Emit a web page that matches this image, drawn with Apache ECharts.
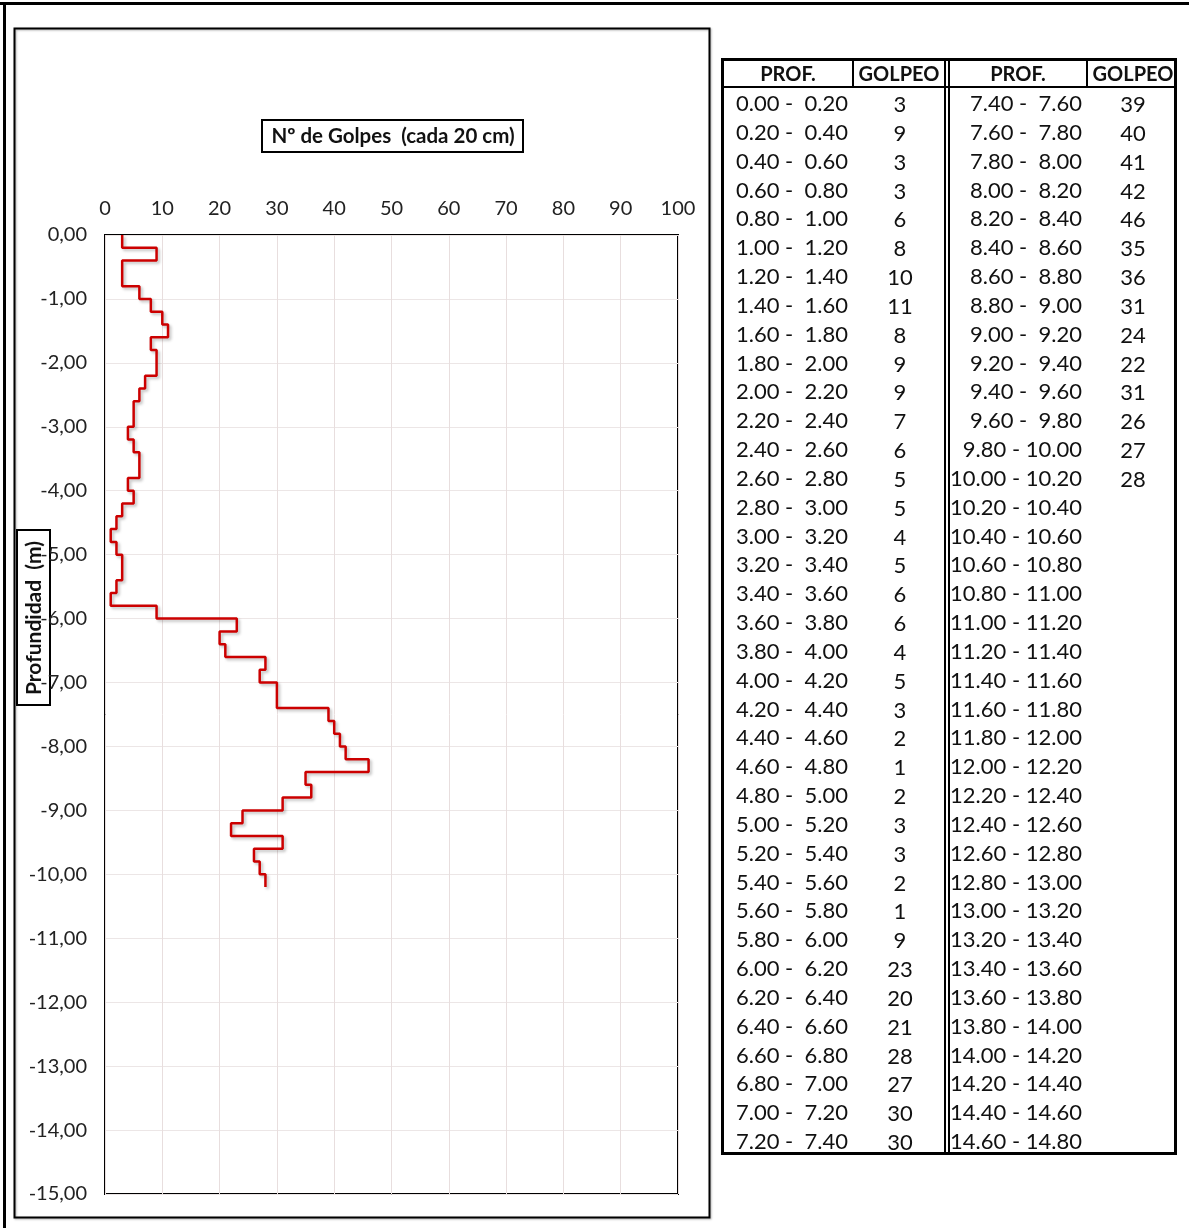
<!DOCTYPE html>
<html>
<head>
<meta charset="utf-8">
<script src="https://cdn.jsdelivr.net/npm/echarts@6/dist/echarts.min.js"></script>
<style>
  html,body{margin:0;padding:0;background:#fff;}
  #chart{position:absolute;left:0;top:0;width:1189px;height:1228px;}
  .t{position:absolute;font-family:Lato,"Open Sans",sans-serif;color:#111;white-space:pre;line-height:1;}
  .ln{position:absolute;background:#000;}
</style>
</head>
<body>
<div id="chart"></div>
<div id="tbl"></div>
<script>
// ---- Data ----
const profLeft = ["0.00 -  0.20","0.20 -  0.40","0.40 -  0.60","0.60 -  0.80","0.80 -  1.00","1.00 -  1.20","1.20 -  1.40","1.40 -  1.60","1.60 -  1.80","1.80 -  2.00","2.00 -  2.20","2.20 -  2.40","2.40 -  2.60","2.60 -  2.80","2.80 -  3.00","3.00 -  3.20","3.20 -  3.40","3.40 -  3.60","3.60 -  3.80","3.80 -  4.00","4.00 -  4.20","4.20 -  4.40","4.40 -  4.60","4.60 -  4.80","4.80 -  5.00","5.00 -  5.20","5.20 -  5.40","5.40 -  5.60","5.60 -  5.80","5.80 -  6.00","6.00 -  6.20","6.20 -  6.40","6.40 -  6.60","6.60 -  6.80","6.80 -  7.00","7.00 -  7.20","7.20 -  7.40"];
const profRight = ["7.40 -  7.60","7.60 -  7.80","7.80 -  8.00","8.00 -  8.20","8.20 -  8.40","8.40 -  8.60","8.60 -  8.80","8.80 -  9.00","9.00 -  9.20","9.20 -  9.40","9.40 -  9.60","9.60 -  9.80","9.80 - 10.00","10.00 - 10.20","10.20 - 10.40","10.40 - 10.60","10.60 - 10.80","10.80 - 11.00","11.00 - 11.20","11.20 - 11.40","11.40 - 11.60","11.60 - 11.80","11.80 - 12.00","12.00 - 12.20","12.20 - 12.40","12.40 - 12.60","12.60 - 12.80","12.80 - 13.00","13.00 - 13.20","13.20 - 13.40","13.40 - 13.60","13.60 - 13.80","13.80 - 14.00","14.00 - 14.20","14.20 - 14.40","14.40 - 14.60","14.60 - 14.80"];
// depth tops and bottoms (m) of each 20 cm interval with a blow count
const depthTop    = [0.0,0.2,0.4,0.6,0.8,1.0,1.2,1.4,1.6,1.8,2.0,2.2,2.4,2.6,2.8,3.0,3.2,3.4,3.6,3.8,4.0,4.2,4.4,4.6,4.8,5.0,5.2,5.4,5.6,5.8,6.0,6.2,6.4,6.6,6.8,7.0,7.2,7.4,7.6,7.8,8.0,8.2,8.4,8.6,8.8,9.0,9.2,9.4,9.6,9.8,10.0];
const depthBottom = [0.2,0.4,0.6,0.8,1.0,1.2,1.4,1.6,1.8,2.0,2.2,2.4,2.6,2.8,3.0,3.2,3.4,3.6,3.8,4.0,4.2,4.4,4.6,4.8,5.0,5.2,5.4,5.6,5.8,6.0,6.2,6.4,6.6,6.8,7.0,7.2,7.4,7.6,7.8,8.0,8.2,8.4,8.6,8.8,9.0,9.2,9.4,9.6,9.8,10.0,10.2];
const golpes = [3,9,3,3,6,8,10,11,8,9,9,7,6,5,5,4,5,6,6,4,5,3,2,1,2,3,3,2,1,9,23,20,21,28,27,30,30,39,40,41,42,46,35,36,31,24,22,31,26,27,28];
const xTicks = [0,10,20,30,40,50,60,70,80,90,100];
const yTicks = [0,-1,-2,-3,-4,-5,-6,-7,-8,-9,-10,-11,-12,-13,-14,-15];

// ---- Step line points ----
const pts = [];
golpes.forEach((g,i)=>{ pts.push([g,-depthTop[i]]); pts.push([g,-depthBottom[i]]); });

const chart = echarts.init(document.getElementById('chart'), null, {renderer:'canvas'});
const FONT = 'Lato, "Open Sans", sans-serif';
chart.setOption({
  backgroundColor:'#fff',
  animation:false,
  grid:{left:105, top:235, width:573, height:959, show:true, borderColor:'#000', borderWidth:2, backgroundColor:'transparent'},
  xAxis:{type:'value', position:'top', min:xTicks[0], max:xTicks[xTicks.length-1], interval:10,
    axisLine:{show:false}, axisTick:{show:false},
    axisLabel:{fontFamily:FONT, fontSize:20, color:'#222', margin:16},
    splitLine:{show:true, lineStyle:{color:'#e8dede', width:1}}},
  yAxis:{type:'value', min:yTicks[yTicks.length-1], max:yTicks[0], interval:1,
    axisLine:{show:false}, axisTick:{show:false},
    axisLabel:{fontFamily:FONT, fontSize:20, color:'#222', margin:18,
      formatter:v=>v.toFixed(2).replace('.',',').replace('-0,00','0,00')},
    splitLine:{show:true, lineStyle:{color:'#ece6e6', width:1}}},
  series:[{type:'line', data:pts, symbol:'none', clip:false,
    lineStyle:{color:'#cc0000', width:2.5, shadowColor:'rgba(0,0,0,0.25)', shadowBlur:3, shadowOffsetX:2, shadowOffsetY:2}}],
  graphic:[
    {type:'line', shape:{x1:0,y1:3.5,x2:1189,y2:3.5}, style:{stroke:'#000', lineWidth:3}},
    {type:'line', shape:{x1:4.5,y1:2,x2:4.5,y2:1228}, style:{stroke:'#000', lineWidth:3}},
    {type:'rect', shape:{x:14.5,y:28.5,width:695,height:1189}, style:{fill:'none', stroke:'#000', lineWidth:2, shadowColor:'rgba(0,0,0,0.3)', shadowBlur:2, shadowOffsetX:1, shadowOffsetY:1}},
    {type:'rect', shape:{x:262,y:120,width:261,height:32}, style:{fill:'#fff', stroke:'#000', lineWidth:2}},
    {type:'text', x:393, y:136, style:{text:'Nº de Golpes  (cada 20 cm)', font:'bold 20.5px '+FONT, fill:'#111', align:'center', verticalAlign:'middle'}},
    {type:'rect', shape:{x:17,y:530,width:33,height:175}, style:{fill:'none', stroke:'#000', lineWidth:2}},
    {type:'text', x:34, y:618, rotation:Math.PI/2, style:{text:'Profundidad  (m)', font:'bold 21px '+FONT, fill:'#111', align:'center', verticalAlign:'middle'}}
  ]
});

// ---- Table ----
const tbl = document.getElementById('tbl');
function add(html){ tbl.insertAdjacentHTML('beforeend', html); }
function line(x,y,w,h){ add(`<div class="ln" style="left:${x}px;top:${y}px;width:${w}px;height:${h}px"></div>`); }
const T0=58, T1=1155, L0=721, R0=1177;
line(L0,T0,R0-L0,3); line(L0,T1-3,R0-L0,3);
line(L0,T0,3,T1-T0); line(R0-3,T0,3,T1-T0);
line(L0,86,R0-L0,2);
line(944,T0,2,T1-T0); line(948,T0,2,T1-T0);
line(852,T0,2,29); line(1086,T0,2,29);
function txt(s,x,y,align,bold,size){
  let style=`top:${y - size/2}px;font-size:${size}px;${bold?'font-weight:bold;':''}`;
  if(align==='right') style+=`right:${1189-x}px;text-align:right;`;
  else if(align==='center') style+=`left:${x-100}px;width:200px;text-align:center;`;
  else style+=`left:${x}px;`;
  add(`<div class="t" style="${style}">${s}</div>`);
}
txt('PROF.',788,73,'center',true,20);
txt('GOLPEO',899,73,'center',true,20);
txt('PROF.',1018,73,'center',true,20);
txt('GOLPEO',1133,73,'center',true,20);
const nRows = profLeft.length;
const rowH = (1141-103)/(nRows-1);
profLeft.forEach((s,i)=>{ txt(s,848,103+i*rowH,'right',false,22); });
golpes.slice(0,nRows).forEach((g,i)=>{ txt(String(g),900,104+i*rowH,'center',false,22); });
profRight.forEach((s,i)=>{ txt(s,1082,103+i*rowH,'right',false,22); });
golpes.slice(nRows).forEach((g,i)=>{ txt(String(g),1133,104+i*rowH,'center',false,22); });
</script>
</body>
</html>
